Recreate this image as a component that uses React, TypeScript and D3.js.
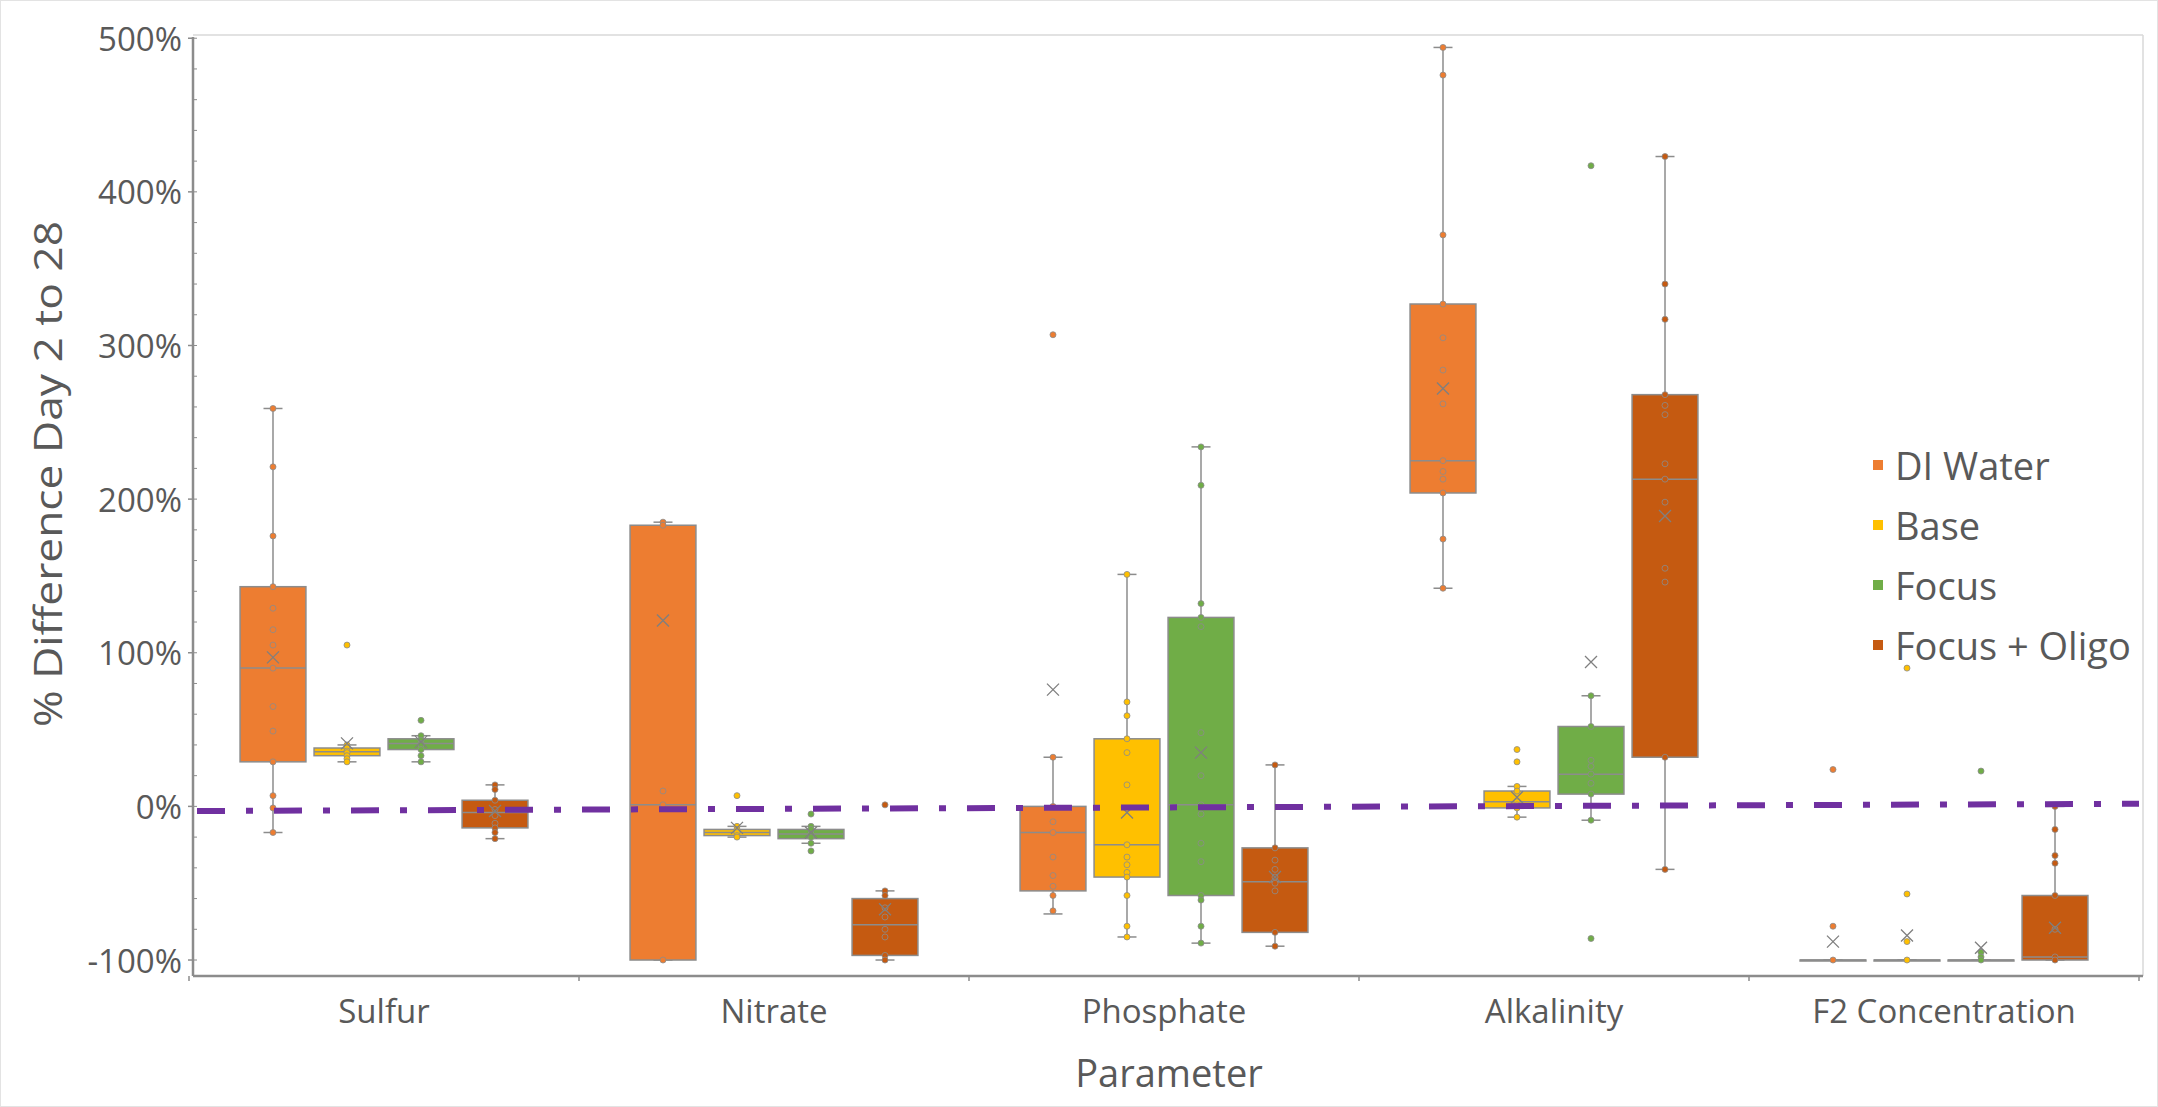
import * as d3 from "d3";

const categories = ["Sulfur", "Nitrate", "Phosphate", "Alkalinity", "F2 Concentration"];
const seriesNames = ["DI Water", "Base", "Focus", "Focus + Oligo"];
const seriesColors = ["#ED7D31", "#FFC000", "#70AD47", "#C55A11"];

// per category: [min, q1, median, q3, max, mean]
const diWaterStats = [
  [-17, 29, 90, 143, 259, 97],
  [-100, -100, 1, 183, 185, 121],
  [-70, -55, -17, 0, 32, 76],
  [142, 204, 225, 327, 494, 272],
  [-100, -100, -100, -100, -100, -88],
];
const baseStats = [
  [29, 33, 35.5, 38, 40, 41],
  [-20, -19, -17, -15, -13, -14],
  [-85, -46, -25, 44, 151, -4],
  [-7, -1, 3, 10, 13, 6],
  [-100, -100, -100, -100, -100, -84],
];
const focusStats = [
  [29, 37, 41, 44, 46, 42],
  [-24, -21, -18, -15, -13, -17],
  [-89, -58, 1, 123, 234, 35],
  [-9, 8, 21, 52, 72, 94],
  [-100, -100, -100, -100, -100, -92],
];
const focusOligoStats = [
  [-21, -14, -4, 4, 14, -3],
  [-100, -97, -77, -60, -55, -67],
  [-91, -82, -49, -27, 27, -46],
  [-41, 32, 213, 268, 423, 189],
  [-100, -100, -98, -58, 0, -79],
];

// individual observations per category
const diWaterPoints = [
  [259, 221, 176, 143, 129, 115, 105, 90, 65, 49, 29, 7, -1, -17],
  [185, 183, 10, 1, -100],
  [307, 32, 0, -10, -17, -33, -45, -52, -58, -68],
  [494, 476, 372, 327, 305, 284, 262, 225, 218, 213, 204, 174, 142],
  [24, -78, -100],
];
const basePoints = [
  [105, 40, 38, 36, 35, 33, 31, 29],
  [7, -13, -15, -17, -19, -20],
  [151, 68, 59, 44, 35, 14, -25, -33, -38, -43, -46, -58, -78, -85],
  [37, 29, 13, 10, 3, 1, -1, -7],
  [90, -57, -88, -100],
];
const focusPoints = [
  [56, 46, 43, 41, 40, 37, 33, 29],
  [-5, -13, -15, -18, -20, -24, -29],
  [234, 209, 132, 123, 117, 48, 20, 1, -5, -24, -36, -58, -61, -78, -89],
  [417, 72, 52, 30, 26, 21, 15, 8, -9, -86],
  [23, -95, -98, -100],
];
const focusOligoPoints = [
  [14, 11, 4, -2, -6, -11, -14, -17, -21],
  [1, -55, -58, -66, -72, -80, -85, -97, -100],
  [27, -27, -35, -41, -46, -50, -55, -82, -91],
  [423, 340, 317, 268, 261, 255, 223, 213, 198, 155, 146, 32, -41],
  [0, -15, -32, -37, -58, -80, -98, -100],
];

const yTicks = [-100, 0, 100, 200, 300, 400, 500];
const yMinorTicks = d3.range(-100, 501, 20);
const refLine = [-3, 1.7]; // purple reference line, left and right end

const allStats = [diWaterStats, baseStats, focusStats, focusOligoStats];
const allPoints = [diWaterPoints, basePoints, focusPoints, focusOligoPoints];

const width = 2158;
const height = 1107;
const plot = { left: 193, right: 2143, top: 35, bottom: 976 };
const textColor = "#595959";
const lineColor = "#8C8C8C";
const font = "'Open Sans', 'Noto Sans', sans-serif";

export default function App() {
  const y = d3.scaleLinear().domain([-110.4, 502.1]).range([plot.bottom, plot.top]);
  const x = d3.scaleBand().domain(categories).range([189, 2139]);
  const xs = d3
    .scaleBand()
    .domain(seriesNames)
    .range([0, x.bandwidth()])
    .paddingInner(0)
    .paddingOuter(0.635);
  const boxW = xs.step() * 0.89;
  const capW = 19;

  const boundaries = [...categories.map((c) => x(c)), x(categories[4]) + x.bandwidth()];

  return (
    <div style={{ position: "absolute", left: 0, top: 0 }}>
      <svg width={width} height={height} style={{ display: "block", background: "#fff" }}>
        <rect x={0.5} y={0.5} width={width - 1} height={height - 1} fill="#fff" stroke="#E3E3E3" />

        {/* plot frame */}
        <line x1={plot.left} x2={plot.right} y1={plot.top} y2={plot.top} stroke="#D9D9D9" strokeWidth={1.5} />
        <line x1={plot.right} x2={plot.right} y1={plot.top} y2={plot.bottom} stroke="#D9D9D9" strokeWidth={1.5} />

        {/* y axis */}
        <line x1={plot.left} x2={plot.left} y1={plot.top + 2} y2={plot.bottom} stroke={lineColor} strokeWidth={2.5} />
        {yMinorTicks.map((t) => (
          <line key={"m" + t} x1={plot.left} x2={plot.left + 4} y1={y(t)} y2={y(t)} stroke={lineColor} strokeWidth={1} />
        ))}
        {yTicks.map((t) => (
          <g key={t}>
            <line x1={plot.left - 5} x2={plot.left} y1={y(t)} y2={y(t)} stroke={lineColor} strokeWidth={1.5} />
            <text
              x={182}
              y={y(t)}
              textAnchor="end"
              dominantBaseline="central"
              fill={textColor}
              fontFamily={font}
              fontSize={33}
            >
              {`${t}%`}
            </text>
          </g>
        ))}

        {/* x axis */}
        <line x1={plot.left} x2={plot.right} y1={plot.bottom} y2={plot.bottom} stroke={lineColor} strokeWidth={2.5} />
        {boundaries.map((b, i) => (
          <line key={"b" + i} x1={b} x2={b} y1={plot.bottom} y2={plot.bottom + 5} stroke={lineColor} strokeWidth={1.5} />
        ))}
        {categories.map((c) => (
          <text
            key={c}
            x={x(c) + x.bandwidth() / 2}
            y={1023}
            textAnchor="middle"
            fill={textColor}
            fontFamily={font}
            fontSize={33}
          >
            {c}
          </text>
        ))}

        {/* boxes */}
        {categories.map((c, ci) =>
          seriesNames.map((s, si) => {
            const [mn, q1, med, q3, mx, mean] = allStats[si][ci];
            const cx = x(c) + xs(s) + xs.bandwidth() / 2;
            const color = seriesColors[si];
            const m = 6;
            return (
              <g key={c + s}>
                <line x1={cx} x2={cx} y1={y(mx)} y2={y(q3)} stroke={lineColor} strokeWidth={1.5} />
                <line x1={cx} x2={cx} y1={y(q1)} y2={y(mn)} stroke={lineColor} strokeWidth={1.5} />
                <line x1={cx - capW / 2} x2={cx + capW / 2} y1={y(mx)} y2={y(mx)} stroke={lineColor} strokeWidth={1.5} />
                <line x1={cx - capW / 2} x2={cx + capW / 2} y1={y(mn)} y2={y(mn)} stroke={lineColor} strokeWidth={1.5} />
                <rect
                  x={cx - boxW / 2}
                  y={y(q3)}
                  width={boxW}
                  height={Math.max(1, y(q1) - y(q3))}
                  fill={color}
                  stroke={lineColor}
                  strokeWidth={1.5}
                />
                <line x1={cx - boxW / 2} x2={cx + boxW / 2} y1={y(med)} y2={y(med)} stroke={lineColor} strokeWidth={1.5} />
                {allPoints[si][ci].map((p, pi) => (
                  <circle key={pi} cx={cx} cy={y(p)} r={3} fill={color} stroke={lineColor} strokeWidth={0.8} />
                ))}
                <path
                  d={`M${cx - m},${y(mean) - m}L${cx + m},${y(mean) + m}M${cx - m},${y(mean) + m}L${cx + m},${y(mean) - m}`}
                  stroke="#7F7F7F"
                  strokeWidth={1.3}
                  fill="none"
                />
              </g>
            );
          })
        )}

        {/* reference line */}
        <line
          x1={plot.left + 4}
          x2={plot.right - 4}
          y1={y(refLine[0])}
          y2={y(refLine[1])}
          stroke="#7030A0"
          strokeWidth={6}
          strokeDasharray="28 21 7 21"
        />

        {/* legend */}
        {seriesNames.map((s, i) => (
          <g key={s} transform={`translate(1873, ${480 + i * 60})`}>
            <rect x={0} y={-20} width={10} height={10} fill={seriesColors[i]} />
            <text x={22} y={0} fill={textColor} fontFamily={font} fontSize={38}>
              {s}
            </text>
          </g>
        ))}

        {/* axis titles */}
        <text
          x={1169}
          y={1087}
          textAnchor="middle"
          fill={textColor}
          fontFamily={font}
          fontSize={38}
        >
          Parameter
        </text>
        <text
          transform="translate(62, 474) rotate(-90)"
          textAnchor="middle"
          fill={textColor}
          fontFamily="'Liberation Sans Narrow', 'Open Sans', sans-serif"
          fontSize={38}
          textLength={506}
          lengthAdjust="spacingAndGlyphs"
        >
          % Difference Day 2 to 28
        </text>
      </svg>
    </div>
  );
}
